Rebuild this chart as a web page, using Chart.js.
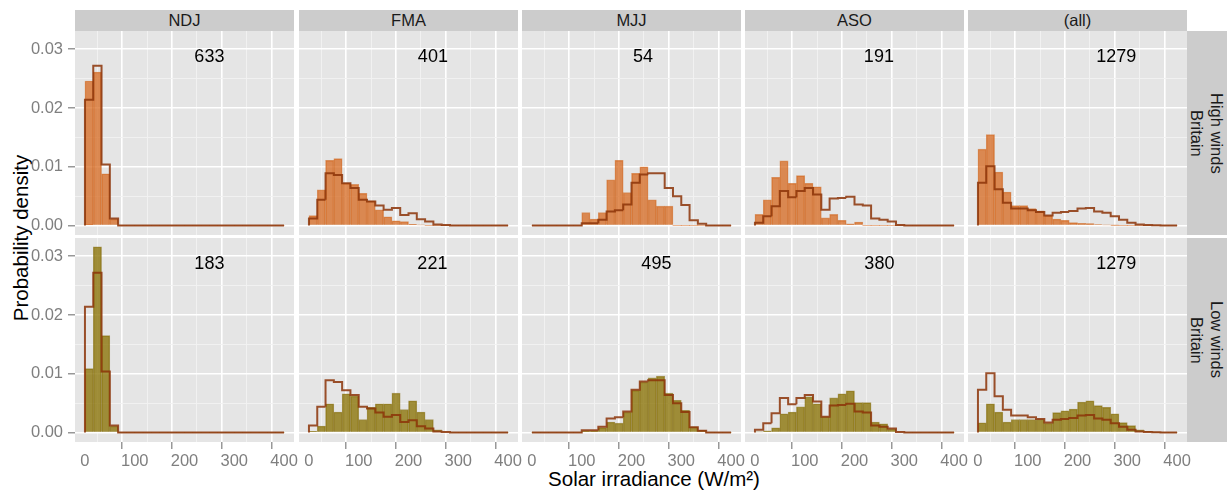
<!DOCTYPE html>
<html>
<head>
<meta charset="utf-8">
<script src="https://cdn.jsdelivr.net/npm/chart.js@4/dist/chart.umd.min.js"></script>
<style>
  html, body { margin: 0; padding: 0; background: #ffffff; }
  body { width: 1227px; height: 492px; position: relative; overflow: hidden; font-family: "Liberation Sans", Arial, sans-serif; }
  canvas { position: absolute; }
  .strip { position: absolute; background: #CCCCCC; color: #1A1A1A; font-size: 16.5px; display: flex; align-items: center; justify-content: center; }
  .strip.side span { writing-mode: vertical-rl; text-align: center; line-height: 20px; }
  .title { position: absolute; color: #000; font-size: 20.5px; white-space: nowrap; }
</style>
</head>
<body>
<script>
// ---------------- data ----------------
const seasons = ["NDJ", "FMA", "MJJ", "ASO", "(all)"];
const rowLabels = ["High winds", "Low winds"];
const regionLabel = "Britain";
const countsHigh = [633, 401, 54, 191, 1279];
const countsLow  = [183, 221, 495, 380, 1279];

// x positions of the count labels (data units) and their height
const countXHigh = [250, 249, 223, 249, 278];
const countXLow  = [250, 248, 250, 250, 278];
const countY = 0.0286;

// 24 histogram bins of width 400/24 W/m² starting at 0
const binLeft = [0, 16.667, 33.333, 50, 66.667, 83.333, 100, 116.667, 133.333, 150, 166.667, 183.333,
                 200, 216.667, 233.333, 250, 266.667, 283.333, 300, 316.667, 333.333, 350, 366.667, 383.333];
const binWidth = 16.667;

// High winds histograms
const highNDJ = [0.0246, 0.0261, 0.0088, 0.0011, 0, 0, 0, 0, 0, 0, 0, 0, 0, 0, 0, 0, 0, 0, 0, 0, 0, 0, 0, 0];
const highFMA = [0.0017, 0.0061, 0.0111, 0.0114, 0.0072, 0.0070, 0.0055, 0.0042, 0.0027, 0.0015, 0.0008, 0.0007, 0.0002, 0.0001, 0, 0, 0, 0, 0, 0, 0, 0, 0, 0];
const highMJJ = [0, 0, 0, 0, 0, 0, 0.0022, 0.0011, 0.0022, 0.0078, 0.0111, 0.0056, 0.0089, 0.0100, 0.0044, 0.0033, 0.0033, 0, 0, 0, 0, 0, 0, 0];
const highASO = [0.0019, 0.0044, 0.0082, 0.0110, 0.0072, 0.0085, 0.0072, 0.0066, 0.0013, 0.0019, 0.0009, 0.0003, 0.0006, 0, 0, 0, 0, 0, 0, 0, 0, 0, 0, 0];
const highAll = [0.0130, 0.0155, 0.0091, 0.0057, 0.0034, 0.0034, 0.0029, 0.0025, 0.0017, 0.0011, 0.0009, 0.0005, 0.0004, 0.00035, 0.00017, 0.0001, 0.00005, 0, 0, 0, 0, 0, 0, 0];

// Low winds histograms
const lowNDJ = [0.0109, 0.0316, 0.0165, 0.0011, 0, 0, 0, 0, 0, 0, 0, 0, 0, 0, 0, 0, 0, 0, 0, 0, 0, 0, 0, 0];
const lowFMA = [0.0002, 0.0011, 0.0049, 0.0035, 0.0066, 0.0062, 0.0022, 0.0043, 0.0049, 0.0049, 0.0067, 0.0039, 0.0054, 0.0035, 0.0022, 0.00045, 0.0001, 0, 0, 0, 0, 0, 0, 0];
const lowMJJ = [0, 0, 0, 0, 0, 0, 0.0003, 0.0003, 0.00085, 0.0018, 0.0016, 0.0035, 0.0072, 0.0086, 0.0093, 0.0096, 0.0067, 0.0055, 0.0038, 0.0010, 0.0004, 0, 0, 0];
const lowASO = [0.0001, 0.0003, 0.0008, 0.0032, 0.0035, 0.0044, 0.0061, 0.0049, 0.0027, 0.0059, 0.0066, 0.0071, 0.0051, 0.0051, 0.0018, 0.0015, 0.0006, 0.0001, 0, 0, 0, 0, 0, 0];
const lowAll = [0.00165, 0.0049, 0.0035, 0.0018, 0.0022, 0.0022, 0.0022, 0.0022, 0.0016, 0.0034, 0.0037, 0.0040, 0.0052, 0.0054, 0.0046, 0.0043, 0.0032, 0.0017, 0.0012, 0.00045, 0.0002, 0.00005, 0, 0];

// Season climatology (step outline), same in both rows
const lineNDJ = [0.0214, 0.0272, 0.0104, 0.0012, 0, 0, 0, 0, 0, 0, 0, 0, 0, 0, 0, 0, 0, 0, 0, 0, 0, 0, 0, 0];
const lineFMA = [0.0012, 0.0044, 0.0089, 0.0086, 0.0072, 0.0064, 0.0044, 0.0041, 0.0034, 0.0027, 0.0030, 0.0018, 0.0021, 0.0011, 0.0007, 0.0002, 0.0001, 0, 0, 0, 0, 0, 0, 0];
const lineMJJ = [0, 0, 0, 0, 0, 0, 0.0004, 0.0004, 0.0010, 0.0024, 0.0026, 0.0036, 0.0073, 0.0087, 0.0089, 0.0089, 0.0064, 0.0050, 0.0035, 0.0009, 0.0003, 0, 0, 0];
const lineASO = [0.0005, 0.0016, 0.0033, 0.0059, 0.0048, 0.0059, 0.0064, 0.0053, 0.0027, 0.0046, 0.0047, 0.0049, 0.0036, 0.0034, 0.0012, 0.0010, 0.0007, 0.0001, 0, 0, 0, 0, 0, 0];
const lineAll = [0.0073, 0.0101, 0.0062, 0.0039, 0.0029, 0.0029, 0.0026, 0.0023, 0.0017, 0.0022, 0.0023, 0.0025, 0.0029, 0.0030, 0.0024, 0.0022, 0.0016, 0.0010, 0.0005, 0.0002, 0.0001, 0.00005, 0, 0];

// axis ticks
const xMajorTicks = [0, 100, 200, 300, 400];
const xMinorTicks = [50, 150, 250, 350];
const yMajorTicks = [0, 0.01, 0.02, 0.03];
const yMinorTicks = [0.005, 0.015, 0.025];
const xTitle = "Solar irradiance (W/m²)";
const yTitle = "Probability density";

const highSeries = [highNDJ, highFMA, highMJJ, highASO, highAll];
const lowSeries  = [lowNDJ, lowFMA, lowMJJ, lowASO, lowAll];
const lineSeries = [lineNDJ, lineFMA, lineMJJ, lineASO, lineAll];

// ---------------- layout & style ----------------
const PANEL_L = [75, 299, 522, 745, 968];
const PANEL_W = 219;
const PANEL_T = [31, 238];
const PANEL_H = 204;
const YAXIS_W = 75;
const XAXIS_H = 36;
const EXTRA_R = 5;
const X_MIN = -20, X_MAX = 420;
const Y_MIN = -0.0016, Y_MAX = 0.0331;
const FONT = "Liberation Sans";
const PANEL_BG = "#E5E5E5";
const GRID_MAJOR = "#FFFFFF";
const GRID_MINOR = "#F2F2F2";
const TICK_COLOR = "#7F7F7F";
const LINE_COLOR = "rgba(140,52,8,0.85)";
const FILLS = ["rgba(214,100,24,0.72)", "rgba(135,112,0,0.76)"];
const EDGES = ["rgba(205,95,20,0.6)", "rgba(125,100,0,0.6)"];

const xTickValues = [...xMajorTicks, ...xMinorTicks].sort((a, b) => a - b);
const yTickValues = [...yMajorTicks, ...yMinorTicks].sort((a, b) => a - b);
const isMajorX = v => xMajorTicks.some(t => Math.abs(t - v) < 1e-9);
const isMajorY = v => yMajorTicks.some(t => Math.abs(t - v) < 1e-9);

const panelBg = {
  id: 'panelBg',
  beforeDraw(chart) {
    const a = chart.chartArea, ctx = chart.ctx;
    ctx.save();
    ctx.fillStyle = PANEL_BG;
    ctx.fillRect(a.left, a.top, a.right - a.left, a.bottom - a.top);
    ctx.restore();
  }
};

const countLabel = {
  id: 'countLabel',
  afterDatasetsDraw(chart, args, opts) {
    const ctx = chart.ctx, x = chart.scales.x, y = chart.scales.y;
    ctx.save();
    ctx.font = '18px "' + FONT + '"';
    ctx.fillStyle = '#000000';
    ctx.textAlign = 'center';
    ctx.textBaseline = 'middle';
    ctx.fillText(opts.text, x.getPixelForValue(opts.x), y.getPixelForValue(opts.y));
    ctx.restore();
  }
};

function makePanel(r, c) {
  const bars = (r === 0 ? highSeries : lowSeries)[c];
  const line = lineSeries[c];
  const barPts = bars.map((v, i) => ({ x: binLeft[i] + binWidth / 2, y: v }));
  const stepPts = [{ x: 0, y: 0 }];
  line.forEach((v, i) => {
    stepPts.push({ x: binLeft[i], y: v });
    stepPts.push({ x: binLeft[i] + binWidth, y: v });
  });
  stepPts.push({ x: 400, y: 0 });

  const showY = c === 0, showX = r === 1;
  const left = PANEL_L[c] - (showY ? YAXIS_W : 0);
  const w = PANEL_W + (showY ? YAXIS_W : 0) + EXTRA_R;
  const h = PANEL_H + (showX ? XAXIS_H : 0);
  const canvas = document.createElement('canvas');
  canvas.width = w; canvas.height = h;
  canvas.style.left = left + 'px';
  canvas.style.top = PANEL_T[r] + 'px';
  canvas.style.width = w + 'px';
  canvas.style.height = h + 'px';
  document.body.appendChild(canvas);

  new Chart(canvas, {
    type: 'bar',
    data: {
      datasets: [
        {
          type: 'line', data: stepPts, borderColor: LINE_COLOR, borderWidth: 2,
          pointRadius: 0, fill: false, tension: 0, order: 0, borderJoinStyle: 'miter'
        },
        {
          type: 'bar', data: barPts, backgroundColor: FILLS[r], borderColor: EDGES[r],
          borderWidth: ctx => (ctx.raw && ctx.raw.y > 0 ? 0.8 : 0),
          barPercentage: 1, categoryPercentage: 1, order: 1
        }
      ]
    },
    options: {
      responsive: false, animation: false, devicePixelRatio: 1,
      layout: { padding: { left: 0, right: EXTRA_R, top: 0, bottom: 0 } },
      plugins: {
        legend: { display: false }, tooltip: { enabled: false },
        countLabel: { text: String((r === 0 ? countsHigh : countsLow)[c]), x: (r === 0 ? countXHigh : countXLow)[c], y: countY }
      },
      scales: {
        x: {
          type: 'linear', min: X_MIN, max: X_MAX, offset: false,
          afterBuildTicks: s => { s.ticks = xTickValues.map(v => ({ value: v })); },
          afterFit: s => { s.height = showX ? XAXIS_H : 0; s.paddingLeft = 0; s.paddingRight = 0; s.paddingTop = 0; s.paddingBottom = 0; },
          border: { display: false },
          grid: {
            drawTicks: showX, tickLength: 7,
            color: ctx => (ctx.tick && isMajorX(ctx.tick.value) ? GRID_MAJOR : GRID_MINOR),
            lineWidth: ctx => (ctx.tick && isMajorX(ctx.tick.value) ? 1.6 : 0.9),
            tickColor: ctx => (ctx.tick && isMajorX(ctx.tick.value) ? TICK_COLOR : 'rgba(0,0,0,0)'),
            tickWidth: 1.2
          },
          ticks: {
            display: showX, autoSkip: false, maxRotation: 0, padding: 3,
            color: TICK_COLOR, font: { family: FONT, size: 16.5 },
            callback: v => (isMajorX(v) ? String(v) : '')
          }
        },
        y: {
          type: 'linear', min: Y_MIN, max: Y_MAX,
          afterBuildTicks: s => { s.ticks = yTickValues.map(v => ({ value: v })); },
          afterFit: s => { s.width = showY ? YAXIS_W : 0; s.paddingLeft = 0; s.paddingRight = 0; s.paddingTop = 0; s.paddingBottom = 0; },
          border: { display: false },
          grid: {
            drawTicks: showY, tickLength: 7,
            color: ctx => (ctx.tick && isMajorY(ctx.tick.value) ? GRID_MAJOR : GRID_MINOR),
            lineWidth: ctx => (ctx.tick && isMajorY(ctx.tick.value) ? 1.6 : 0.9),
            tickColor: ctx => (ctx.tick && isMajorY(ctx.tick.value) ? TICK_COLOR : 'rgba(0,0,0,0)'),
            tickWidth: 1.2
          },
          ticks: {
            display: showY, autoSkip: false, padding: 5,
            color: TICK_COLOR, font: { family: FONT, size: 16.5 },
            callback: v => (isMajorY(v) ? v.toFixed(2) : '')
          }
        }
      }
    },
    plugins: [panelBg, countLabel]
  });
}

function addDiv(cls, css, html) {
  const d = document.createElement('div');
  d.className = cls;
  Object.assign(d.style, css);
  d.innerHTML = html;
  document.body.appendChild(d);
  return d;
}

// column strips
seasons.forEach((s, c) => {
  addDiv('strip', { left: PANEL_L[c] + 'px', top: '10px', width: PANEL_W + 'px', height: '21px' }, s);
});
// row strips
rowLabels.forEach((s, r) => {
  addDiv('strip side', { left: (PANEL_L[4] + PANEL_W) + 'px', top: PANEL_T[r] + 'px', width: '40px', height: PANEL_H + 'px' },
    '<span>' + s + '<br>' + regionLabel + '</span>');
});
// axis titles
addDiv('title', { left: '654px', top: '479px', transform: 'translate(-50%,-50%)' }, xTitle);
addDiv('title', { left: '20.5px', top: '237.5px', transform: 'translate(-50%,-50%) rotate(-90deg)' }, yTitle);

for (let r = 0; r < 2; r++) for (let c = 0; c < 5; c++) makePanel(r, c);
</script>
</body>
</html>
